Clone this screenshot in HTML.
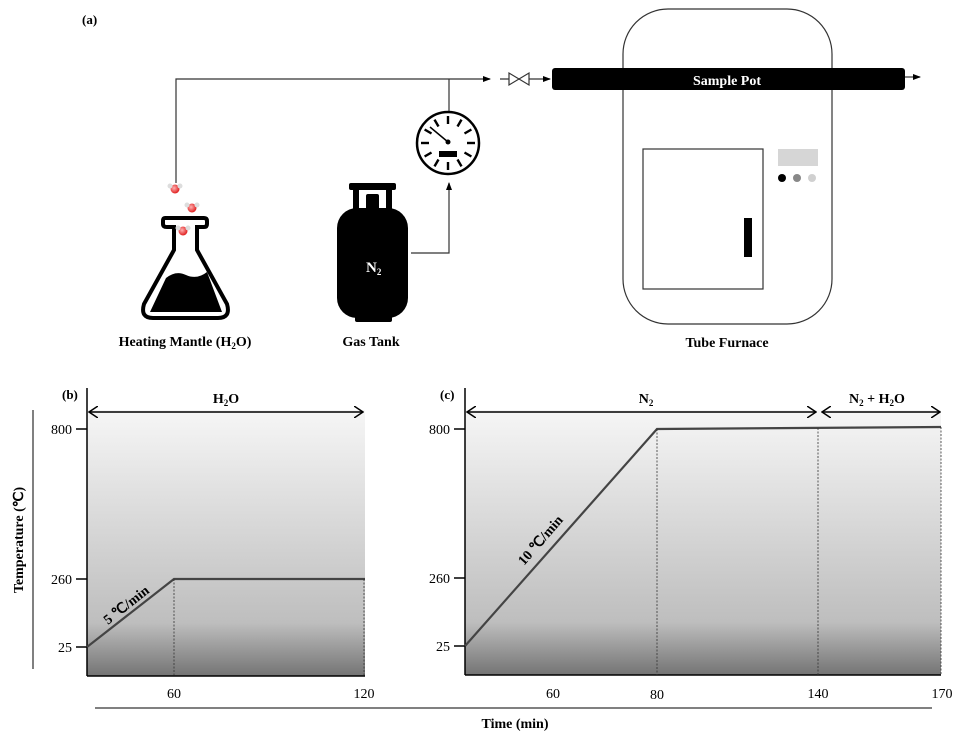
<!DOCTYPE html>
<html><head><meta charset="utf-8"><style>
html,body{margin:0;padding:0;background:#fff;}
svg{display:block;font-family:"Liberation Serif",serif;}
</style></head><body>
<svg width="968" height="741" viewBox="0 0 968 741" xmlns="http://www.w3.org/2000/svg">
<defs>
<linearGradient id="g" x1="0" y1="0" x2="0" y2="1">
<stop offset="0" stop-color="#f6f6f6"/>
<stop offset="0.8" stop-color="#bebebe"/>
<stop offset="1" stop-color="#747474"/>
</linearGradient>
<marker id="ah" markerWidth="8" markerHeight="8" refX="7" refY="4" orient="auto" markerUnits="userSpaceOnUse"><path d="M0,1 L8,4 L0,7 z" fill="#000"/></marker>
<marker id="oa" markerWidth="10" markerHeight="12" refX="9" refY="6" orient="auto-start-reverse" markerUnits="userSpaceOnUse"><path d="M0,0 L9,6 L0,12" fill="none" stroke="#000" stroke-width="1.5"/></marker>
<radialGradient id="mol" cx="0.4" cy="0.4" r="0.6"><stop offset="0" stop-color="#ffb0b0"/><stop offset="1" stop-color="#e02020"/></radialGradient>
</defs>
<text x="82" y="24" font-size="13" font-weight="bold">(a)</text>

<!-- pipes -->
<polyline points="176,183 176,79 490,79" fill="none" stroke="#333" stroke-width="1.2" marker-end="url(#ah)"/>
<line x1="449" y1="79" x2="449" y2="112" stroke="#333" stroke-width="1.2"/>
<polyline points="411,253 449,253 449,183" fill="none" stroke="#333" stroke-width="1.2" marker-end="url(#ah)"/>
<line x1="500" y1="79" x2="550" y2="79" stroke="#333" stroke-width="1.2" marker-end="url(#ah)"/>
<path d="M509,73 L509,85 L529,73 L529,85 Z" fill="#fff" stroke="#333" stroke-width="1.2"/>

<!-- furnace -->
<rect x="623" y="9" width="209" height="315" rx="45" fill="none" stroke="#333" stroke-width="1.2"/>
<rect x="643" y="149" width="120" height="140" fill="none" stroke="#333" stroke-width="1.2"/>
<rect x="744" y="218" width="8" height="39" fill="#000"/>
<rect x="778" y="149" width="40" height="17" fill="#d6d6d6"/>
<circle cx="782" cy="178" r="4" fill="#000"/>
<circle cx="797" cy="178" r="4" fill="#888"/>
<circle cx="812" cy="178" r="4" fill="#d0d0d0"/>
<rect x="552" y="68" width="353" height="22" rx="3" fill="#000"/>
<text x="727" y="85" font-size="14" font-weight="bold" fill="#fff" text-anchor="middle">Sample Pot</text>
<line x1="905" y1="77" x2="920" y2="77" stroke="#333" stroke-width="1.2" marker-end="url(#ah)"/>
<text x="727" y="347" font-size="14" font-weight="bold" text-anchor="middle">Tube Furnace</text>

<!-- gauge -->
<circle cx="448" cy="143" r="31" fill="#fff" stroke="#000" stroke-width="2.5"/>
<g stroke="#000" stroke-width="2.4">
<line x1="448" y1="116" x2="448" y2="124"/>
<line x1="461.5" y1="119.6" x2="457.5" y2="126.5"/>
<line x1="471.4" y1="129.5" x2="464.5" y2="133.5"/>
<line x1="475" y1="143" x2="467" y2="143"/>
<line x1="471.4" y1="156.5" x2="464.5" y2="152.5"/>
<line x1="461.5" y1="166.4" x2="457.5" y2="159.5"/>
<line x1="448" y1="170" x2="448" y2="162"/>
<line x1="434.5" y1="166.4" x2="438.5" y2="159.5"/>
<line x1="424.6" y1="156.5" x2="431.5" y2="152.5"/>
<line x1="421" y1="143" x2="429" y2="143"/>
<line x1="424.6" y1="129.5" x2="431.5" y2="133.5"/>
<line x1="434.5" y1="119.6" x2="438.5" y2="126.5"/>
<line x1="430" y1="127" x2="448" y2="142" stroke-width="1.5"/>
</g>
<circle cx="448" cy="142" r="2.5" fill="#000"/>
<rect x="439" y="151" width="18" height="6" fill="#000"/>

<!-- tank -->
<rect x="349" y="183" width="47" height="7" rx="2" fill="#000"/>
<rect x="353" y="188" width="6" height="24" fill="#000"/>
<rect x="386" y="188" width="6" height="24" fill="#000"/>
<rect x="366" y="194" width="13" height="18" rx="2" fill="#000"/>
<rect x="337" y="208" width="71" height="110" rx="20" fill="#000"/>
<rect x="355" y="314" width="37" height="8" rx="2" fill="#000"/>
<text x="366" y="272" font-size="15" font-weight="bold" fill="#fff">N<tspan font-size="9" dy="3">2</tspan></text>
<text x="371" y="346" font-size="14" font-weight="bold" text-anchor="middle">Gas Tank</text>

<!-- flask -->
<path d="M165,218 H204 Q207,218 207,221 V224 Q207,227 204,227 H197 V250 L227,304 Q231,318 218,318 H153 Q140,318 144,304 L174,250 V227 H167 Q163,227 163,224 V221 Q163,218 165,218 Z" fill="none" stroke="#000" stroke-width="4"/>
<path d="M150,312 L166,278 Q176,270 186,275 Q197,280 207,272 L222,312 Z" fill="#000"/>
<circle cx="175" cy="189" r="4.5" fill="url(#mol)"/><circle cx="170" cy="186" r="2.5" fill="#ddd"/><circle cx="180" cy="186" r="2.5" fill="#ddd"/>
<circle cx="192" cy="208" r="4.5" fill="url(#mol)"/><circle cx="187" cy="205" r="2.5" fill="#ddd"/><circle cx="197" cy="205" r="2.5" fill="#ddd"/>
<circle cx="183" cy="231" r="4.5" fill="url(#mol)"/><circle cx="178" cy="228" r="2.5" fill="#ddd"/><circle cx="188" cy="228" r="2.5" fill="#ddd"/>
<text x="185" y="346" font-size="14" font-weight="bold" text-anchor="middle">Heating Mantle (H<tspan font-size="9" dy="3">2</tspan><tspan dy="-3">O)</tspan></text>

<!-- panel b -->
<rect x="87" y="410" width="278" height="266" fill="url(#g)"/>
<text x="62" y="399" font-size="13" font-weight="bold">(b)</text>
<line x1="87" y1="388" x2="87" y2="676" stroke="#000" stroke-width="1.5"/>
<line x1="87" y1="676" x2="365" y2="676" stroke="#000" stroke-width="1.5"/>
<g stroke="#000" stroke-width="1.5"><line x1="76" y1="429" x2="87" y2="429"/><line x1="76" y1="579" x2="87" y2="579"/><line x1="76" y1="647" x2="87" y2="647"/></g>
<g font-size="14" text-anchor="end"><text x="72" y="434">800</text><text x="72" y="584">260</text><text x="72" y="652">25</text></g>
<line x1="89" y1="412" x2="363" y2="412" stroke="#000" stroke-width="1.5" marker-start="url(#oa)" marker-end="url(#oa)"/>
<text x="226" y="403" font-size="14" font-weight="bold" text-anchor="middle">H<tspan font-size="9" dy="3">2</tspan><tspan dy="-3">O</tspan></text>
<polyline points="87,647 174,579 365,579" fill="none" stroke="#444" stroke-width="2.2"/>
<g stroke="#333" stroke-width="0.8" stroke-dasharray="2,1.5"><line x1="174" y1="579" x2="174" y2="676"/><line x1="364" y1="579" x2="364" y2="676"/></g>
<text x="0" y="0" font-size="14" font-weight="bold" transform="translate(108,625) rotate(-38)">5 ℃/min</text>
<g font-size="14" text-anchor="middle"><text x="174" y="698">60</text><text x="364" y="698">120</text></g>
<line x1="33" y1="410" x2="33" y2="669" stroke="#000" stroke-width="1"/>
<text x="0" y="0" font-size="14" font-weight="bold" text-anchor="middle" transform="translate(23,540) rotate(-90)">Temperature (℃)</text>

<!-- panel c -->
<rect x="465" y="410" width="476" height="265" fill="url(#g)"/>
<text x="440" y="399" font-size="13" font-weight="bold">(c)</text>
<line x1="465" y1="388" x2="465" y2="675" stroke="#000" stroke-width="1.5"/>
<line x1="465" y1="675" x2="941" y2="675" stroke="#000" stroke-width="1.5"/>
<g stroke="#000" stroke-width="1.5"><line x1="454" y1="429" x2="465" y2="429"/><line x1="454" y1="578" x2="465" y2="578"/><line x1="454" y1="646" x2="465" y2="646"/></g>
<g font-size="14" text-anchor="end"><text x="450" y="434">800</text><text x="450" y="583">260</text><text x="450" y="651">25</text></g>
<line x1="467" y1="412" x2="816" y2="412" stroke="#000" stroke-width="1.5" marker-start="url(#oa)" marker-end="url(#oa)"/>
<line x1="822" y1="412" x2="940" y2="412" stroke="#000" stroke-width="1.5" marker-start="url(#oa)" marker-end="url(#oa)"/>
<text x="646" y="403" font-size="14" font-weight="bold" text-anchor="middle">N<tspan font-size="9" dy="3">2</tspan></text>
<text x="877" y="403" font-size="14" font-weight="bold" text-anchor="middle">N<tspan font-size="9" dy="3">2</tspan><tspan dy="-3"> + H</tspan><tspan font-size="9" dy="3">2</tspan><tspan dy="-3">O</tspan></text>
<polyline points="465,646 657,429 941,427" fill="none" stroke="#444" stroke-width="2.2"/>
<g stroke="#333" stroke-width="0.8" stroke-dasharray="2,1.5"><line x1="657" y1="429" x2="657" y2="675"/><line x1="818" y1="428" x2="818" y2="675"/><line x1="941" y1="427" x2="941" y2="675"/></g>
<text x="0" y="0" font-size="14" font-weight="bold" transform="translate(524,566) rotate(-49)">10 ℃/min</text>
<g font-size="14" text-anchor="middle"><text x="553" y="698">60</text><text x="657" y="699">80</text><text x="818" y="698">140</text><text x="942" y="698">170</text></g>
<line x1="95" y1="708" x2="932" y2="708" stroke="#000" stroke-width="1"/>
<text x="515" y="728" font-size="14" font-weight="bold" text-anchor="middle">Time (min)</text>
</svg>
</body></html>
